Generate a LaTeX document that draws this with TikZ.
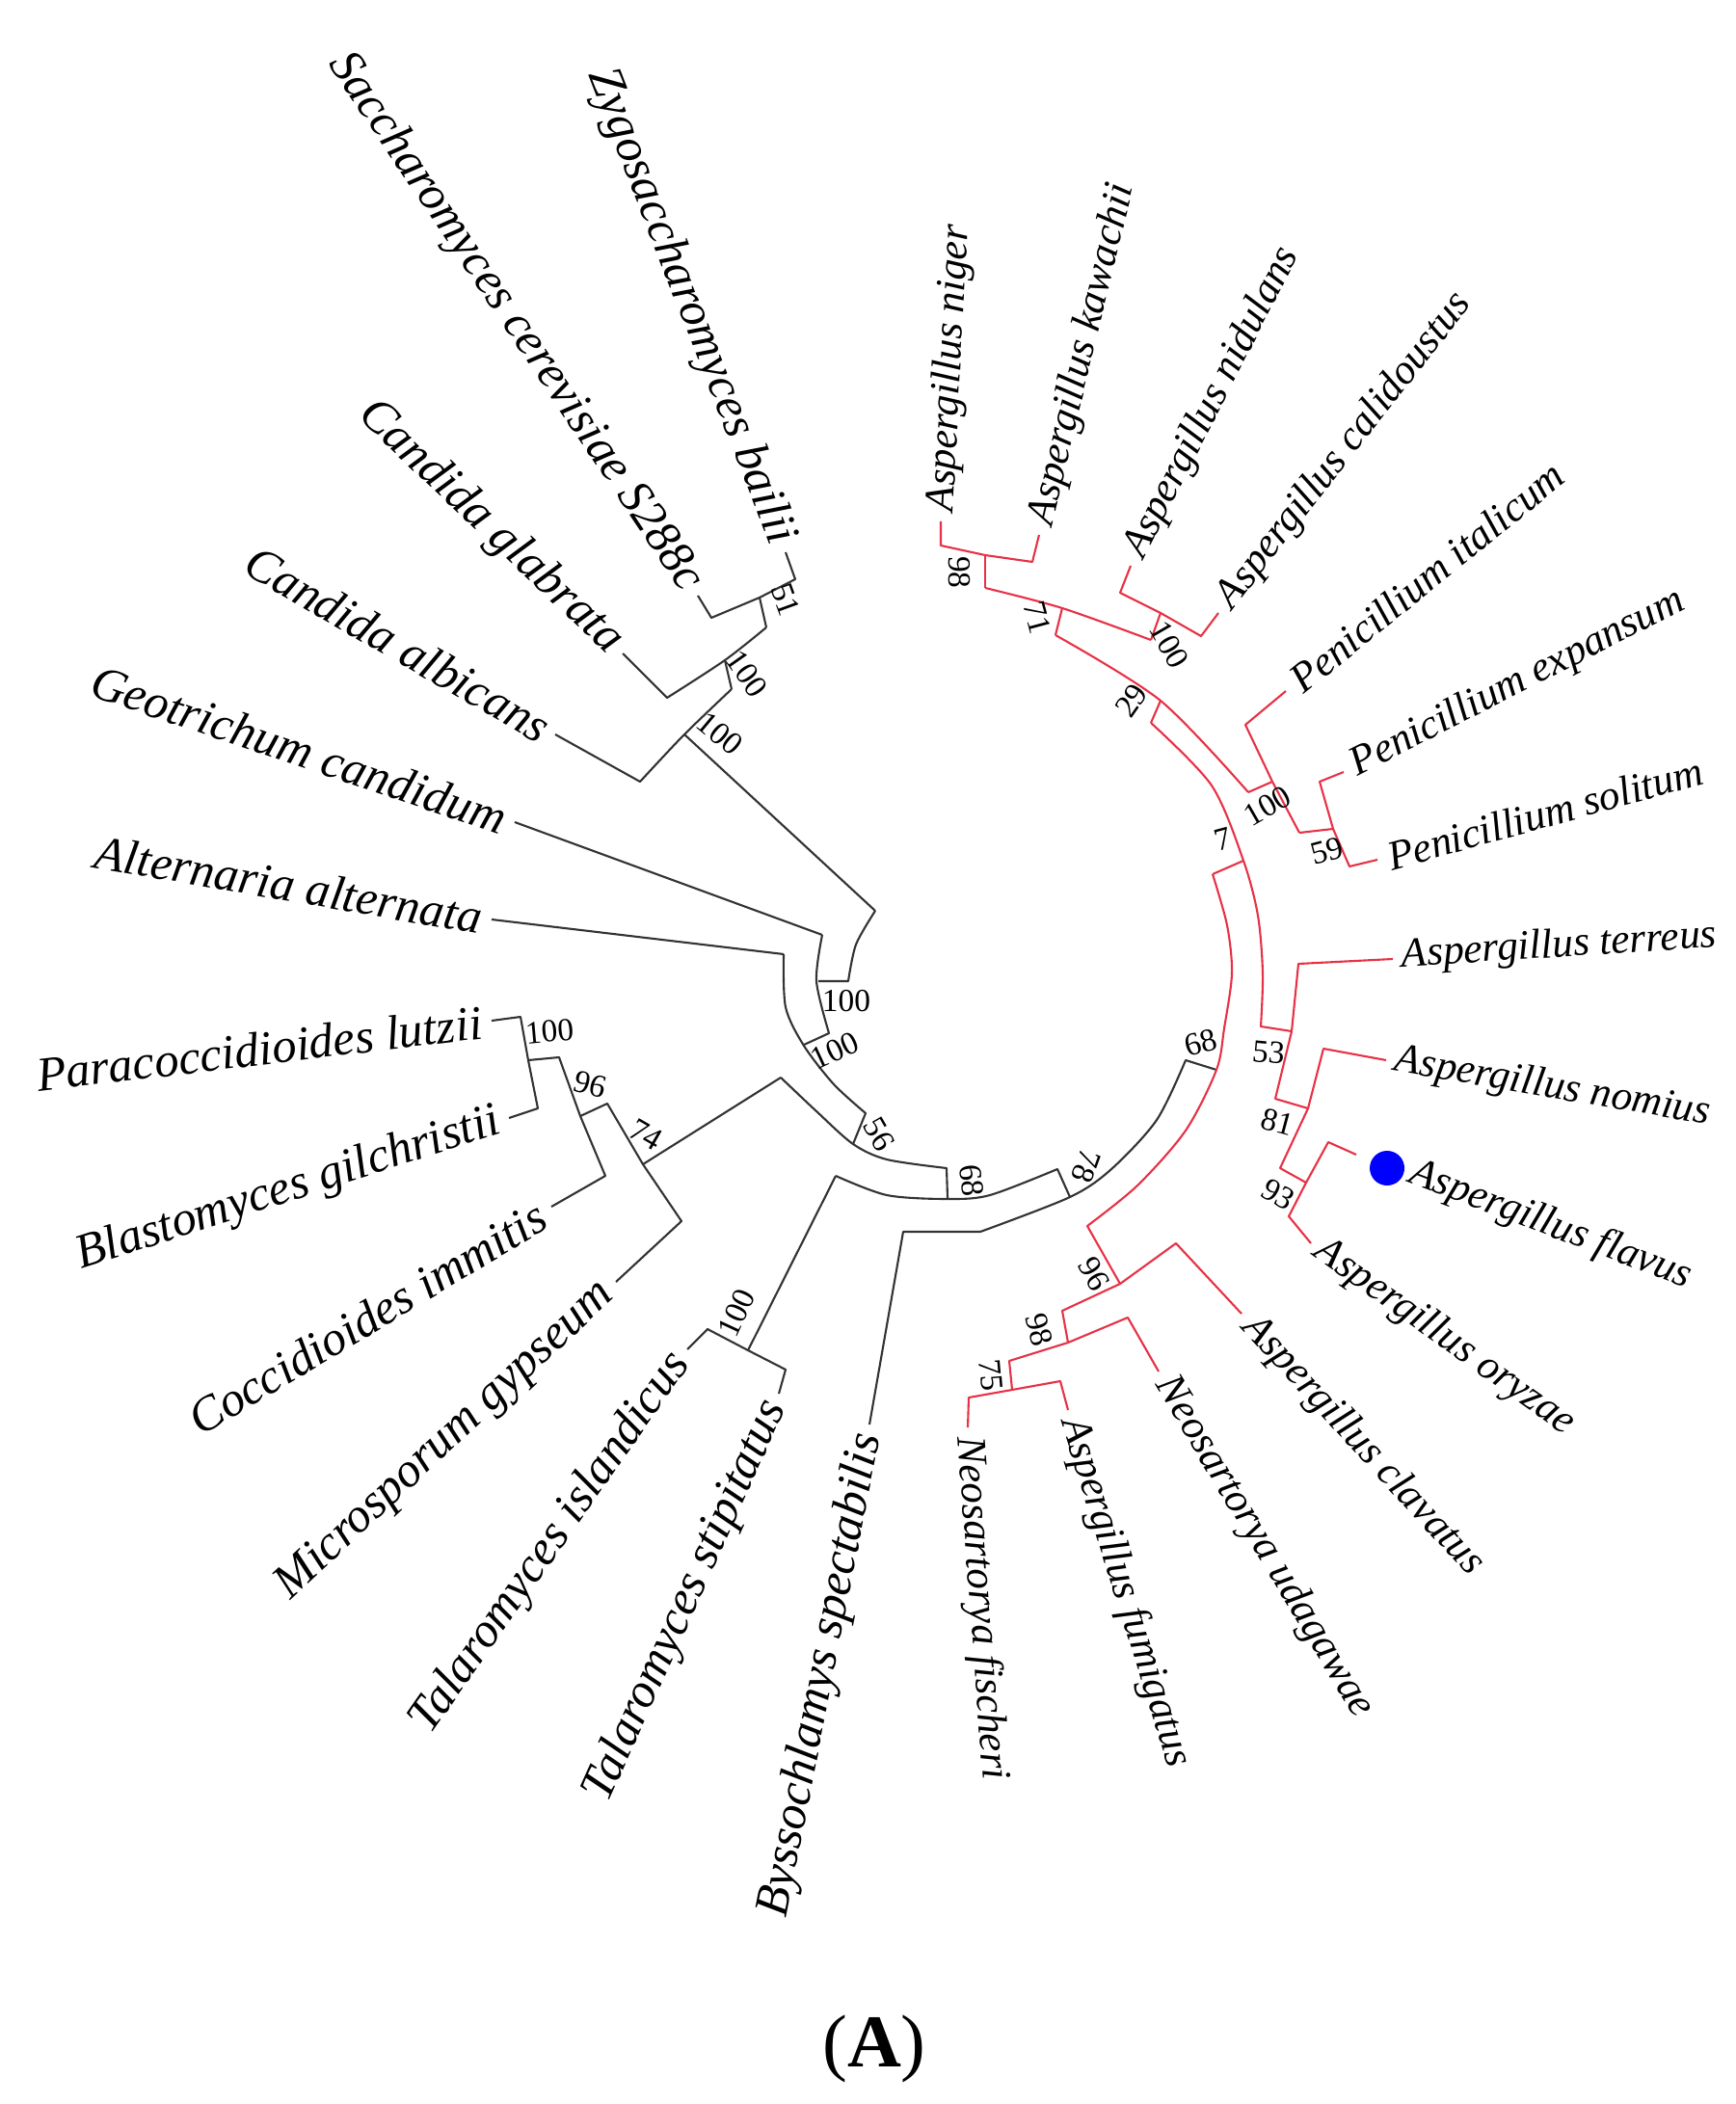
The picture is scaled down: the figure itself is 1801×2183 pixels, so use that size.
\documentclass[tikz,border=0pt]{standalone}
\usepackage{fontspec}
\setmainfont{Liberation Serif}
\begin{document}
\begin{tikzpicture}[x=0.01cm,y=-0.01cm,
  blk/.style={line width=0.6pt,black!80,line join=round},
  red/.style={line width=0.6pt,draw={rgb,255:red,230;green,50;blue,70},line join=round},
  rl/.style={font=\fontsize{12.3}{14}\selectfont\itshape,inner sep=1pt,anchor=west},
  bl/.style={font=\fontsize{14.3}{16}\selectfont\itshape,inner sep=1pt,anchor=east},
  bs/.style={font=\fontsize{9.5}{11}\selectfont,inner sep=0pt}]
\useasboundingbox (0,0) rectangle (1801,2183);
% ---------- black part ----------
\draw[blk] (815,573)--(825,601)--(788,620)--(738,641)--(724,618);
\draw[blk] (788,620)--(795,651);
\draw[blk] plot[smooth] coordinates {(795,651)(752,685)(692,724)} -- (646,678);
\draw[blk] (752,685)--(759,715);
\draw[blk] plot[smooth] coordinates {(759,715)(710,762)(664,811)} -- (576,762);
\draw[blk] (710,762)--(908,945);
\draw[blk] plot[smooth] coordinates {(908,945)(888,980)(880,1018)} -- (849,1018);
\draw[blk] (534,853)--(853,970);
\draw[blk] plot[smooth] coordinates {(853,970)(847,1018)(860,1072)} -- (834,1084);
\draw[blk] (510,954)--(813,990);
\draw[blk] plot[smooth] coordinates {(813,990)(815,1045)(834,1085)(865,1125)(898,1155)} -- (885,1187);
\draw[blk] plot[smooth] coordinates {(810,1118)(847,1153)(885,1187)(920,1203)(982,1212)} -- (983,1243);
\draw[blk] (667,1208)--(810,1118);
\draw[blk] plot[smooth] coordinates {(867,1220)(920,1240)(983,1244)(1027,1240)(1097,1213)} -- (1110,1242);
\draw[blk] (902,1478)--(937,1278)--(1017,1278);
\draw[blk] plot[smooth] coordinates {(1017,1278)(1110,1242)(1153,1213)(1200,1162)(1230,1100)} -- (1262,1110);
\draw[blk] (867,1220)--(776,1401);
\draw[blk] (713,1400)--(734,1379)--(776,1401)--(815,1421)--(808,1446);
\draw[blk] (510,1059)--(540,1055)--(548,1100)--(558,1150)--(528,1160);
\draw[blk] (548,1100)--(580,1097)--(602,1158)--(628,1220)--(572,1252);
\draw[blk] (602,1158)--(630,1145)--(667,1208)--(707,1267)--(639,1330);
% ---------- red part ----------
\draw[red] (976,541)--(976,566)--(1022,576)--(1071,583)--(1078,555);
\draw[red] (1022,576)--(1022,610);
\draw[red] plot[smooth] coordinates {(1022,610)(1102,631)(1194,664)};
\draw[red] (1102,631)--(1095,659);
\draw[red] (1173,587)--(1162,615)--(1204,636)--(1246,660)--(1264,636);
\draw[red] (1204,636)--(1194,664);
\draw[red] plot[smooth] coordinates {(1095,659)(1204,727)(1295,822)};
\draw[red] (1204,727)--(1194,750);
\draw[red] plot[smooth] coordinates {(1194,750)(1257,815)(1290,893)(1305,950)(1310,1010)(1308,1065)} -- (1340,1070);
\draw[red] (1290,893)--(1258,907);
\draw[red] (1334,717)--(1292,752)--(1320,811)--(1348,864);
\draw[red] (1320,811)--(1295,822);
\draw[red] (1394,801)--(1369,811)--(1383,860)--(1400,899)--(1429,892);
\draw[red] (1383,860)--(1348,864);
\draw[red] (1445,995)--(1347,1000)--(1340,1070)--(1323,1140)--(1357,1150);
\draw[red] (1438,1100)--(1373,1088)--(1357,1150)--(1328,1212)--(1355,1227);
\draw[red] (1407,1198)--(1378,1185)--(1355,1227)--(1337,1262)--(1360,1290);
\draw[red] plot[smooth] coordinates {(1258,907)(1273,960)(1278,1010)(1270,1067)(1262,1110)(1230,1173)(1180,1230)(1128,1272)} -- (1162,1332);
\draw[red] (1288,1363)--(1220,1290)--(1162,1332)--(1102,1360)--(1108,1393);
\draw[red] (1202,1423)--(1170,1367)--(1108,1393)--(1047,1412)--(1050,1442);
\draw[red] (1108,1463)--(1100,1433)--(1050,1442)--(1005,1450)--(1004,1481);
\fill[blue] (1439,1212) circle (18);
% ---------- red labels ----------
\node[rl,rotate=87] (l1) at (978,535) {Aspergillus niger};
\node[rl,rotate=76.5] (l2) at (1080,548) {Aspergillus kawachii};
\node[rl,rotate=63] (l3) at (1175,580) {Aspergillus nidulans};
\node[rl,rotate=52] (l4) at (1268,630) {Aspergillus calidoustus};
\node[rl,rotate=39] (l5) at (1340,712) {Penicillium italicum};
\node[rl,rotate=27] (l6) at (1400,798) {Penicillium expansum};
\node[rl,rotate=15.5] (l7) at (1436,890) {Penicillium solitum};
\node[rl,rotate=3.6] (l8) at (1450,993) {Aspergillus terreus};
\node[rl,rotate=-9.7] (l9) at (1443,1100) {Aspergillus nomius};
\node[rl,rotate=-20.8] (l10) at (1460,1215) {Aspergillus flavus};
\node[rl,rotate=-35.4] (l11) at (1364,1292) {Aspergillus oryzae};
\node[rl,rotate=-47.4] (l12) at (1292,1368) {Aspergillus clavatus};
\node[rl,rotate=-59] (l13) at (1205,1428) {Neosartorya udagawae};
\node[rl,rotate=-72.8] (l14) at (1110,1468) {Aspergillus fumigatus};
\node[rl,rotate=-85.8] (l15) at (1004,1487) {Neosartorya fischeri};
% ---------- black labels ----------
\node[bl,rotate=79] (b1) at (902,1484) {Byssochlamys spectabilis};
\node[bl,rotate=65.8] (b2) at (806,1452) {Talaromyces stipitatus};
\node[bl,rotate=55] (b3) at (709,1405) {Talaromyces islandicus};
\node[bl,rotate=43] (b4) at (634,1335) {Microsporum gypseum};
\node[bl,rotate=31] (b5) at (566,1256) {Coccidioides immitis};
\node[bl,rotate=18] (b6) at (522,1162) {Blastomyces gilchristii};
\node[bl,rotate=6.8] (b7) at (504,1060) {Paracoccidioides lutzii};
\node[bl,rotate=-9.8] (b8) at (504,953) {Alternaria alternata};
\node[bl,rotate=-18.7] (b9) at (528,851) {Geotrichum candidum};
\node[bl,rotate=-30] (b10) at (571,759) {Candida albicans};
\node[bl,rotate=-43.5] (b11) at (642,674) {Candida glabrata};
\node[bl,rotate=-56.3] (b12) at (720,613) {Saccharomyces cerevisiae S288c};
\node[bl,rotate=-68.9] (b13) at (812,567) {Zygosaccharomyces bailii};
% ---------- bootstrap values ----------
\node[bs,rotate=-70] (s1) at (815,622) {51};
\node[bs,rotate=-55] (s2) at (775,699) {100};
\node[bs,rotate=-40] (s3) at (747,761) {100};
\node[bs] (s4) at (878,1039) {100};
\node[bs,rotate=25] (s5) at (866,1090) {100};
\node[bs,rotate=-60] (s6) at (912,1177) {56};
\node[bs,rotate=-85] (s7) at (1008,1225) {68};
\node[bs,rotate=-110] (s8) at (1127,1210) {78};
\node[bs,rotate=5] (s9) at (570,1070) {100};
\node[bs,rotate=-15] (s10) at (612,1125) {96};
\node[bs,rotate=-30] (s11) at (670,1177) {74};
\node[bs,rotate=65] (s12) at (764,1362) {100};
\node[bs,rotate=-90] (s13) at (995,594) {98};
\node[bs,rotate=-75] (s14) at (1076,641) {71};
\node[bs,rotate=-60] (s15) at (1213,669) {100};
\node[bs,rotate=55] (s16) at (1174,727) {29};
\node[bs,rotate=30] (s17) at (1315,836) {100};
\node[bs,rotate=15] (s18) at (1269,871) {7};
\node[bs,rotate=15] (s19) at (1377,883) {59};
\node[bs,rotate=15] (s20) at (1246,1082) {68};
\node[bs,rotate=-5] (s21) at (1316,1092) {53};
\node[bs,rotate=-15] (s22) at (1325,1164) {81};
\node[bs,rotate=-30] (s23) at (1326,1239) {93};
\node[bs,rotate=-60] (s24) at (1135,1322) {96};
\node[bs,rotate=-75] (s25) at (1078,1380) {98};
\node[bs,rotate=-85] (s26) at (1028,1427) {75};
% ---------- caption ----------
\node[font=\fontsize{22}{26}\selectfont] (cap) at (907,2126) {(\textbf{A})};
\end{tikzpicture}
\end{document}
